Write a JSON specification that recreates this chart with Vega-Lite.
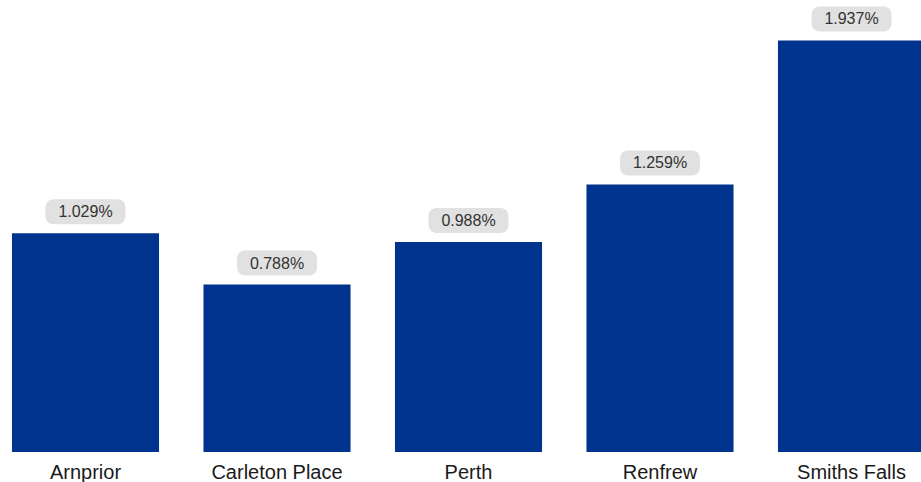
{
  "$schema": "https://vega.github.io/schema/vega-lite/v6.json",
  "width": 921,
  "height": 452,
  "autosize": {"type": "none"},
  "padding": {"top": 0, "left": 0, "right": 0, "bottom": 30},
  "background": "white",
  "config": {"view": {"stroke": null}, "font": "Liberation Sans"},
  "data": {
    "values": [
      {"town": "Arnprior", "rate": 0.01029},
      {"town": "Carleton Place", "rate": 0.00788},
      {"town": "Perth", "rate": 0.00988},
      {"town": "Renfrew", "rate": 0.01259},
      {"town": "Smiths Falls", "rate": 0.01937}
    ]
  },
  "encoding": {
    "x": {
      "field": "town",
      "type": "nominal",
      "sort": null,
      "scale": {"range": [-10.25, 947.25], "paddingInner": 0.232, "paddingOuter": 0.116},
      "axis": {
        "title": null,
        "domain": false,
        "ticks": false,
        "labelAngle": 0,
        "labelFontSize": 20,
        "labelColor": "#1a1a1a",
        "labelPadding": 10,
        "labelFont": "Liberation Sans"
      }
    },
    "y": {
      "field": "rate",
      "type": "quantitative",
      "scale": {"domain": [0, 0.02127], "nice": false, "zero": true},
      "axis": null
    }
  },
  "layer": [
    {"mark": {"type": "bar", "color": "#00338D"}},
    {
      "mark": {
        "type": "point",
        "shape": "M-0.8,-0.3125 H0.8 A0.2,0.2 0 0 1 1,-0.1125 V0.1125 A0.2,0.2 0 0 1 0.8,0.3125 H-0.8 A0.2,0.2 0 0 1 -1,0.1125 V-0.1125 A0.2,0.2 0 0 1 -0.8,-0.3125 Z",
        "size": 6400,
        "filled": true,
        "color": "#e1e1e1",
        "opacity": 1,
        "yOffset": -21.5
      }
    },
    {
      "mark": {
        "type": "text",
        "fontSize": 16,
        "color": "#333333",
        "baseline": "middle",
        "dy": -21
      },
      "encoding": {"text": {"field": "rate", "type": "quantitative", "format": ".3%"}}
    }
  ]
}
